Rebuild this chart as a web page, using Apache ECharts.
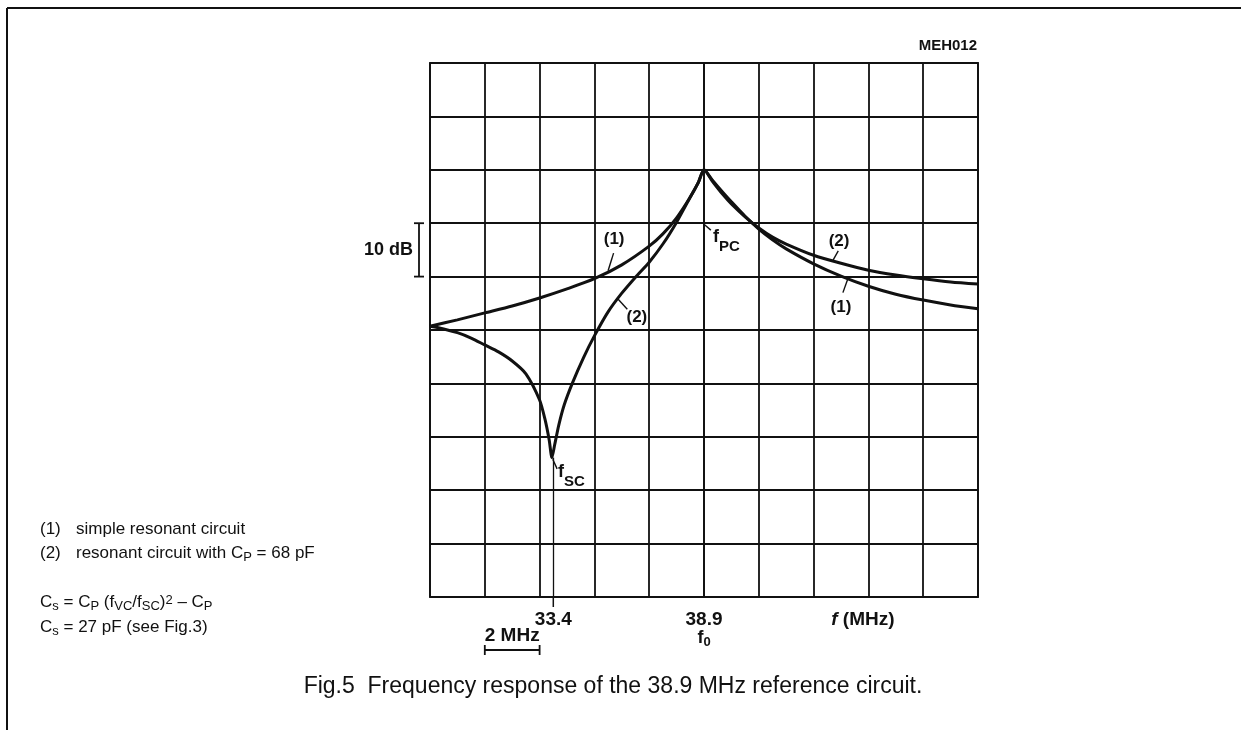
<!DOCTYPE html>
<html><head><meta charset="utf-8">
<script src="https://cdn.jsdelivr.net/npm/echarts@6/dist/echarts.min.js"></script>
<style>html,body{margin:0;padding:0;background:#fff}#c{width:1241px;height:730px}</style>
</head><body><div id="c"></div>
<script>
// x = frequency offset from f0 = 38.9 MHz (MHz); one grid column = 2 MHz
// y = relative response (dB); one grid row = 10 dB
const curve1X = [-10, -9, -8, -7, -6, -5, -4, -3, -2, -1.5, -1, -0.5, -0.2, 0, 0.3, 0.7, 1, 1.5, 2, 2.5, 3, 4, 5, 6, 7, 8, 9, 10];
const curve1Y = [-29.3, -28.1, -26.8, -25.5, -24.0, -22.3, -20.4, -17.8, -14.3, -12.0, -9.0, -5.1, -2.3, 0, -1.9, -4.3, -6.0, -8.7, -11.1, -13.1, -14.8, -17.6, -19.9, -21.8, -23.3, -24.4, -25.3, -26.0];
const curve2X = [-10, -9.5, -9, -8.5, -8, -7.5, -7, -6.5, -6, -5.8, -5.65, -5.55, -5.45, -5.3, -5.1, -4.8, -4.4, -4, -3.5, -3, -2.5, -2, -1.5, -1, -0.5, -0.2, 0, 0.3, 0.7, 1, 1.5, 2, 2.5, 3, 4, 5, 6, 7, 8, 9, 10];
const curve2Y = [-29.3, -29.8, -30.5, -31.5, -32.8, -34.1, -35.8, -38.2, -43.1, -46.8, -50.6, -53.9, -51.5, -47.8, -44.0, -39.9, -35.2, -31.1, -26.6, -23.1, -20.1, -17.3, -13.9, -9.8, -5.1, -2.3, 0, -2.1, -4.7, -6.4, -8.8, -10.9, -12.6, -13.9, -16.0, -17.5, -18.8, -19.7, -20.4, -21.0, -21.4];
const xTickValues = [-5.5, 0, 5.8];
const xTickLabels = ['33.4', '38.9', 'f (MHz)'];
const fscMarker = [[-5.5, -53.9], [-5.5, -80]];
const annotations = [
  {text: '(1)', x: -3.28, y: -13.1},
  {text: '(2)', x: -2.45, y: -27.7},
  {text: '(2)', x: 4.93, y: -13.3},
  {text: '(1)', x: 5.0, y: -25.8},
  {text: 'f', sub: 'PC', x: 0.33, y: -12.6},
  {text: 'f', sub: 'SC', x: -5.33, y: -56.6}
];
const leaders = [
  [[-3.3, -15.6], [-3.5, -18.9]],
  [[-3.14, -24.2], [-2.8, -26.1]],
  [[0, -10.2], [0.25, -11.3]],
  [[4.9, -15.2], [4.7, -17.0]],
  [[5.25, -20.4], [5.07, -23.0]],
  [[-5.52, -54.2], [-5.36, -56.0]]
];
const scaleBarX = [-8, -6];
const dbBracketY = [-10, -20];

const FONT = "'Liberation Sans', Arial, Helvetica, sans-serif";
const INK = '#111';

const chart = echarts.init(document.getElementById('c'), null, {renderer: 'canvas'});
const pairs = (xs, ys) => xs.map((x, i) => [x, ys[i]]);

const option = {
  animation: false,
  backgroundColor: '#fff',
  grid: {left: 430, top: 63, right: 263, bottom: 133, show: true, borderColor: INK, borderWidth: 1.8},
  xAxis: [
    {
      type: 'value', min: -10, max: 10, interval: 2,
      axisLine: {show: true, lineStyle: {color: INK, width: 1.8}},
      axisTick: {show: false}, axisLabel: {show: false},
      splitLine: {show: true, lineStyle: {color: INK, width: 1.8}}
    },
    {
      type: 'value', min: -10, max: 10, position: 'bottom',
      axisLine: {show: false},
      splitLine: {show: false},
      axisTick: {show: false},
      axisLabel: {
        show: true, customValues: xTickValues, margin: 13, color: INK,
        formatter: function (v) {
          const i = xTickValues.indexOf(v);
          if (i < 0) return '';
          if (v === 0) return '{n|' + xTickLabels[i] + '}\n{f|f}{s|0}';
          if (xTickLabels[i].indexOf('f ') === 0) return '{i|f}{n|' + xTickLabels[i].slice(1) + '}';
          return '{n|' + xTickLabels[i] + '}';
        },
        rich: {
          n: {fontFamily: FONT, fontWeight: 'bold', fontSize: 19, color: INK, lineHeight: 19},
          i: {fontFamily: FONT, fontWeight: 'bold', fontStyle: 'italic', fontSize: 19, color: INK, lineHeight: 19},
          f: {fontFamily: FONT, fontWeight: 'bold', fontSize: 18, color: INK, lineHeight: 18, verticalAlign: 'top'},
          s: {fontFamily: FONT, fontWeight: 'bold', fontSize: 13, color: INK, lineHeight: 18, padding: [7, 0, 0, 0], verticalAlign: 'top'}
        }
      }
    }
  ],
  yAxis: {
    type: 'value', min: -80, max: 20, interval: 10,
    axisLine: {show: true, lineStyle: {color: INK, width: 1.8}},
    axisTick: {show: false}, axisLabel: {show: false},
    splitLine: {show: true, lineStyle: {color: INK, width: 1.8}}
  },
  series: [
    {
      name: '(1) simple resonant circuit', type: 'line', xAxisIndex: 0, data: pairs(curve1X, curve1Y),
      showSymbol: false, smooth: 0.25, lineStyle: {color: INK, width: 3}, silent: true,
      markLine: {
        silent: true, symbol: ['none', 'none'], label: {show: false},
        lineStyle: {color: INK, width: 1.4, type: 'solid'},
        data: leaders.map(l => [{coord: l[0]}, {coord: l[1]}])
      }
    },
    {
      name: '(2) resonant circuit with CP = 68 pF', type: 'line', xAxisIndex: 0, data: pairs(curve2X, curve2Y),
      showSymbol: false, smooth: 0.25, lineStyle: {color: INK, width: 3}, silent: true,
      markLine: {
        silent: true, symbol: ['none', 'none'], label: {show: false},
        lineStyle: {color: INK, width: 1.3, type: 'solid'},
        data: [[{coord: fscMarker[0]}, {coord: fscMarker[1]}]]
      }
    }
  ]
};
chart.setOption(option);

const P = (x, y) => chart.convertToPixel({gridIndex: 0}, [x, y]);
const g = [];
// frame
g.push({type: 'line', shape: {x1: 7, y1: 8, x2: 1241, y2: 8}, style: {stroke: INK, lineWidth: 2}});
g.push({type: 'line', shape: {x1: 7, y1: 8, x2: 7, y2: 730}, style: {stroke: INK, lineWidth: 2}});
// 33.4 tick below the axis
const t0 = P(fscMarker[1][0], fscMarker[1][1]);
g.push({type: 'line', shape: {x1: t0[0], y1: t0[1], x2: t0[0], y2: t0[1] + 10}, style: {stroke: INK, lineWidth: 1.5}});
// curve annotations
annotations.forEach(a => {
  const p = P(a.x, a.y);
  if (a.sub) {
    g.push({type: 'text', x: p[0], y: p[1], style: {
      text: '{f|' + a.text + '}{s|' + a.sub + '}', align: 'left', verticalAlign: 'middle',
      rich: {
        f: {fontFamily: FONT, fontWeight: 'bold', fontSize: 18, fill: INK, lineHeight: 18, verticalAlign: 'top'},
        s: {fontFamily: FONT, fontWeight: 'bold', fontSize: 15, fill: INK, lineHeight: 18, padding: [11, 0, 0, 0], verticalAlign: 'top'}
      }}});
  } else {
    g.push({type: 'text', x: p[0], y: p[1], style: {text: a.text, align: 'center', verticalAlign: 'middle',
      font: 'bold 17px ' + FONT, fill: INK}});
  }
});
// 10 dB bracket
const b1 = P(-10, dbBracketY[0]), b2 = P(-10, dbBracketY[1]);
const bx = 419;
g.push({type: 'line', shape: {x1: bx, y1: b1[1], x2: bx, y2: b2[1]}, style: {stroke: INK, lineWidth: 1.8}});
g.push({type: 'line', shape: {x1: bx - 5, y1: b1[1], x2: bx + 5, y2: b1[1]}, style: {stroke: INK, lineWidth: 1.8}});
g.push({type: 'line', shape: {x1: bx - 5, y1: b2[1], x2: bx + 5, y2: b2[1]}, style: {stroke: INK, lineWidth: 1.8}});
g.push({type: 'text', x: bx - 6, y: (b1[1] + b2[1]) / 2, style: {text: '10 dB', align: 'right', verticalAlign: 'middle',
  font: 'bold 18px ' + FONT, fill: INK}});
// 2 MHz scale bar
const s1 = P(scaleBarX[0], -80), s2 = P(scaleBarX[1], -80);
const sy = 650;
g.push({type: 'line', shape: {x1: s1[0], y1: sy, x2: s2[0], y2: sy}, style: {stroke: INK, lineWidth: 1.8}});
g.push({type: 'line', shape: {x1: s1[0], y1: sy - 5, x2: s1[0], y2: sy + 5}, style: {stroke: INK, lineWidth: 1.8}});
g.push({type: 'line', shape: {x1: s2[0], y1: sy - 5, x2: s2[0], y2: sy + 5}, style: {stroke: INK, lineWidth: 1.8}});
g.push({type: 'text', x: (s1[0] + s2[0]) / 2, y: sy - 5, style: {text: '2 MHz', align: 'center', verticalAlign: 'bottom',
  font: 'bold 19px ' + FONT, fill: INK}});
// drawing id
g.push({type: 'text', x: 977, y: 46, style: {text: 'MEH012', align: 'right', verticalAlign: 'middle',
  font: 'bold 15px ' + FONT, fill: INK}});
// legend / notes
const nf = 17;
const richNote = {
  n: {fontFamily: FONT, fontSize: nf, fill: INK, lineHeight: 20, verticalAlign: 'top'},
  sub: {fontFamily: FONT, fontSize: 13, fill: INK, lineHeight: 20, padding: [6, 0, 0, 0], verticalAlign: 'top'},
  sup: {fontFamily: FONT, fontSize: 13, fill: INK, lineHeight: 20, padding: [0, 0, 0, 0], verticalAlign: 'top'}
};
const notes = [
  {x: 40, y: 531, text: '{n|(1)}'},
  {x: 76, y: 531, text: '{n|simple resonant circuit}'},
  {x: 40, y: 555, text: '{n|(2)}'},
  {x: 76, y: 555, text: '{n|resonant circuit with C}{sub|P}{n| = 68 pF}'},
  {x: 40, y: 604, text: '{n|C}{sub|s}{n| = C}{sub|P}{n| (f}{sub|VC}{n|/f}{sub|SC}{n|)}{sup|2}{n| \u2013 C}{sub|P}'},
  {x: 40, y: 629, text: '{n|C}{sub|s}{n| = 27 pF (see Fig.3)}'}
];
notes.forEach(n => g.push({type: 'text', x: n.x, y: n.y, style: {text: n.text, align: 'left', verticalAlign: 'middle', rich: richNote}}));
// caption
g.push({type: 'text', x: 613, y: 687, style: {text: 'Fig.5  Frequency response of the 38.9 MHz reference circuit.',
  align: 'center', verticalAlign: 'middle', font: '23px ' + FONT, fill: INK}});
chart.setOption({graphic: g});
</script>
</body></html>
